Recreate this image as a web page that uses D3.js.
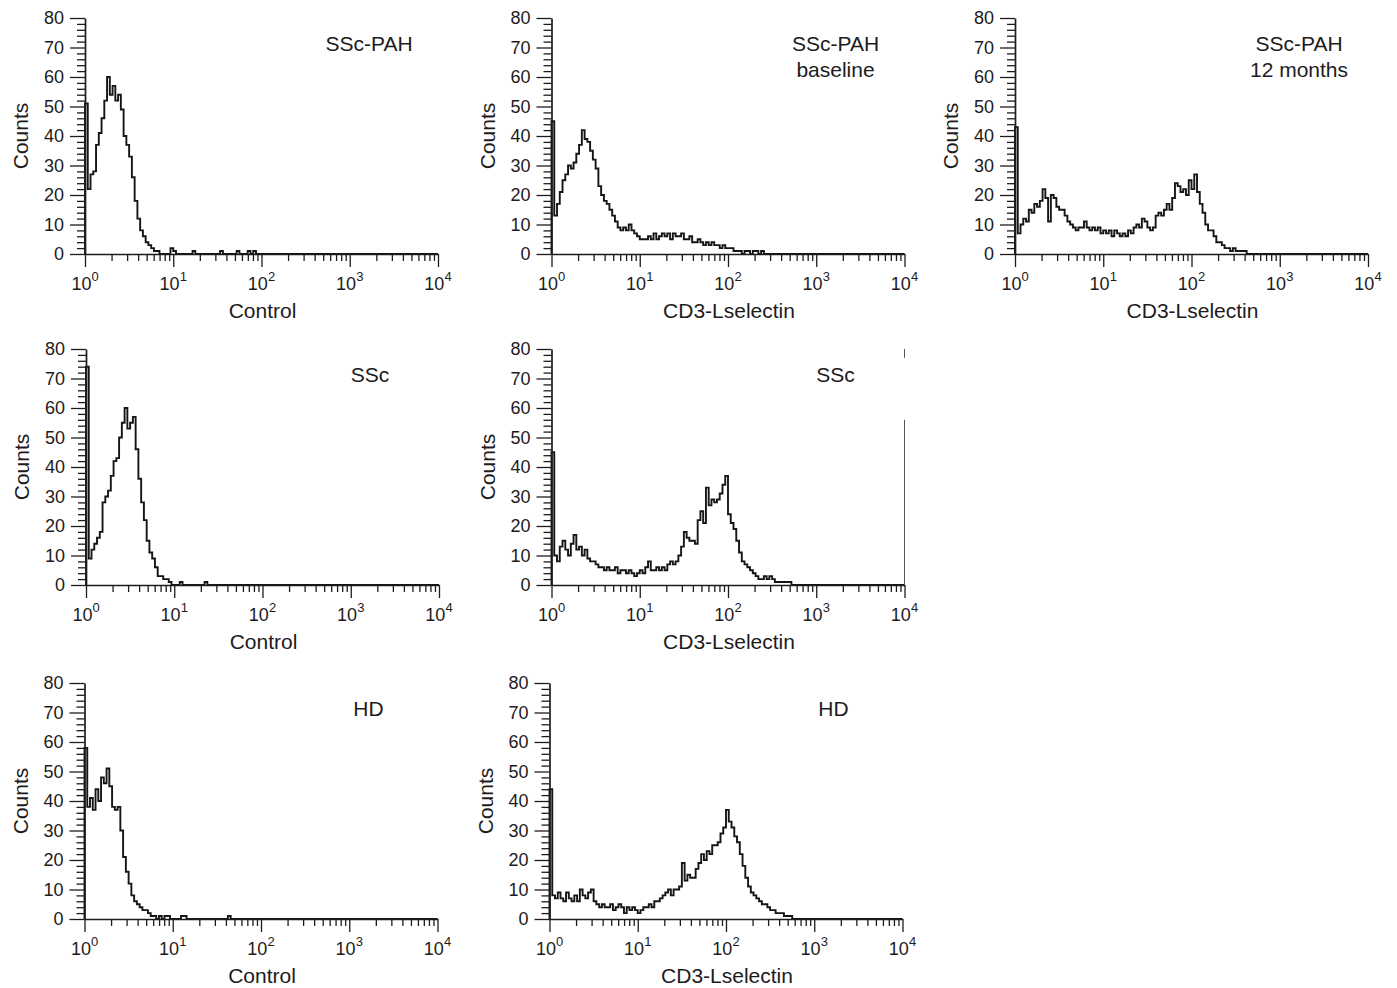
<!DOCTYPE html>
<html>
<head>
<meta charset="utf-8">
<script src="https://cdn.jsdelivr.net/npm/d3@7"></script>
<style>
  body { margin: 0; background: #fff; }
  text { font-family: "Liberation Sans", Arial, Helvetica, sans-serif; fill: #1e1b1c; }
</style>
</head>
<body>
<svg id="fig" width="1397" height="988"></svg>
<script>
// FACS histograms: counts per channel, 32 channels per decade, channel 0 starts at 10^0
var channelsPerDecade = 32;

var pahControl = [51,22,27,28,37,41,46,52,60,54,57,52,54,49,40,37,33,26,18,12,
  8,6,4,3,2,1,1,0,0,0,0,2,1,0,0,0,0,0,0,1,0,0,0,0,0,0,0,0,0,1,0,0,0,0,0,1,0,0,0,1,0,1];

var pahBaseline = [45,13,17,21,25,27,30,29,31,34,37,42,39,38,35,32,29,23,20,18,
  17,15,13,11,9,8,9,8,10,8,7,6,5,5,5,6,5,7,5,6,7,6,7,5,7,6,6,7,5,5,
  6,4,4,5,4,3,4,3,4,3,3,2,3,2,2,2,1,1,1,0,1,1,0,1,1,0,1];

var pah12Months = [43,7,10,12,11,15,14,17,16,18,22,19,11,20,19,16,15,15,13,11,
  10,9,8,9,9,11,9,8,9,8,9,7,8,7,8,6,8,7,6,7,6,8,7,9,10,9,12,11,9,8,
  9,13,14,13,15,17,15,19,24,23,21,22,20,25,22,27,21,17,14,10,8,8,6,4,4,3,2,2,1,2,
  1,1,1,1];

var sscControl = [74,9,12,14,16,18,28,30,32,37,42,43,50,55,60,53,55,57,46,36,
  28,22,15,11,9,6,3,3,2,2,1,0,0,0,1,0,0,0,0,0,0,0,0,1];

var sscLselectin = [45,10,8,13,15,12,10,14,17,12,13,10,12,9,8,8,7,6,6,5,
  6,5,5,6,4,5,5,4,5,4,3,4,5,4,6,8,5,5,6,5,6,5,7,8,7,8,10,13,18,16,
  15,15,14,22,25,21,33,27,29,28,29,31,34,37,24,21,19,15,11,8,7,6,5,4,3,2,2,3,2,3,
  2,1,1,1,1,1,1];

var hdControl = [58,38,41,37,44,40,48,46,51,45,38,37,38,30,21,16,12,8,6,5,
  4,3,3,2,1,1,0,1,0,1,1,0,0,0,0,1,1,0,0,0,0,0,0,0,0,0,0,0,0,0,0,0,1];

var hdLselectin = [44,8,7,9,7,6,9,7,6,8,6,10,8,7,9,10,6,5,4,5,
  4,4,5,3,4,5,4,2,4,3,4,3,2,3,4,4,5,4,6,6,7,8,9,10,8,10,10,11,19,13,
  15,14,14,17,19,22,20,23,22,25,25,26,29,31,37,33,31,28,26,22,18,14,11,9,8,7,6,5,5,4,
  3,3,2,2,2,1,1,1];

var yTickValues = [0, 10, 20, 30, 40, 50, 60, 70, 80];
var xTickValues = [1, 10, 100, 1000, 10000];
var xTickExponents = ["0", "1", "2", "3", "4"];
var yLabel = "Counts";

var panels = [
  { title: ["SSc-PAH"], xLabel: "Control", counts: pahControl, left: 85, top: 18 },
  { title: ["SSc-PAH", "baseline"], xLabel: "CD3-Lselectin", counts: pahBaseline, left: 551.5, top: 18 },
  { title: ["SSc-PAH", "12 months"], xLabel: "CD3-Lselectin", counts: pah12Months, left: 1015, top: 18 },
  { title: ["SSc"], xLabel: "Control", counts: sscControl, left: 86, top: 349 },
  { title: ["SSc"], xLabel: "CD3-Lselectin", counts: sscLselectin, left: 551.5, top: 349, edge: true },
  { title: ["HD"], xLabel: "Control", counts: hdControl, left: 84.5, top: 683 },
  { title: ["HD"], xLabel: "CD3-Lselectin", counts: hdLselectin, left: 549.5, top: 683 }
];

var W = 353, H = 236;
var ink = "#1e1b1c";
var svg = d3.select("#fig");

// minor ticks: 2..9 within each decade
var xMinor = [];
[1, 10, 100, 1000].forEach(function(d) {
  for (var k = 2; k <= 9; k++) xMinor.push(d * k);
});
var yMinor = d3.range(0, 81, 2).filter(function(v) { return v % 10 !== 0; });

panels.forEach(function(p) {
  var g = svg.append("g").attr("transform", "translate(" + p.left + "," + p.top + ")");
  var x = d3.scaleLog().domain([1, 1e4]).range([0, W]);
  var y = d3.scaleLinear().domain([0, 80]).range([H, 0]);

  // step histogram
  var pts = [[1, 0]];
  p.counts.forEach(function(c, i) {
    pts.push([Math.pow(10, i / channelsPerDecade), c]);
  });
  pts.push([Math.pow(10, p.counts.length / channelsPerDecade), 0]);
  pts.push([1e4, 0]);

  var line = d3.line()
    .x(function(d) { return x(d[0]); })
    .y(function(d) { return y(d[1]); })
    .curve(d3.curveStepAfter);

  g.append("path")
    .datum(pts)
    .attr("d", line)
    .attr("fill", "none")
    .attr("stroke", "#151515")
    .attr("stroke-width", 1.9)
    .attr("stroke-linejoin", "miter");

  // y axis
  var yAx = g.append("g")
    .call(d3.axisLeft(y).tickValues(yTickValues).tickSize(15).tickSizeOuter(0).tickPadding(6));
  var yMin = g.append("g")
    .call(d3.axisLeft(y).tickValues(yMinor).tickSize(8).tickFormat(""));
  yMin.select(".domain").remove();
  yAx.selectAll("text").style("font-size", "18px");

  // x axis
  var xAx = g.append("g")
    .attr("transform", "translate(0," + H + ")")
    .call(d3.axisBottom(x).tickValues(xTickValues).tickSize(13).tickSizeOuter(0).tickFormat(""));
  var xMin = g.append("g")
    .attr("transform", "translate(0," + H + ")")
    .call(d3.axisBottom(x).tickValues(xMinor).tickSize(7).tickFormat(""));
  xMin.select(".domain").remove();

  [yAx, yMin, xAx, xMin].forEach(function(a) {
    a.selectAll(".domain").attr("stroke", ink).attr("stroke-width", 1.7);
    a.selectAll(".tick line").attr("stroke", ink).attr("stroke-width", 1.3);
  });

  // x tick labels with superscript exponent
  xTickValues.forEach(function(v, i) {
    var t = g.append("text")
      .attr("x", x(v))
      .attr("y", H + 36)
      .attr("text-anchor", "middle")
      .style("font-size", "18px");
    t.append("tspan").text("10");
    t.append("tspan").attr("dy", -9).style("font-size", "13px").text(xTickExponents[i]);
  });

  // axis titles
  g.append("text")
    .attr("x", W / 2 + 1)
    .attr("y", H + 64)
    .attr("text-anchor", "middle")
    .style("font-size", "21px")
    .text(p.xLabel);

  g.append("text")
    .attr("transform", "translate(-57," + (H / 2) + ") rotate(-90)")
    .attr("text-anchor", "middle")
    .style("font-size", "21px")
    .text(yLabel);

  // panel title
  p.title.forEach(function(s, i) {
    g.append("text")
      .attr("x", 284)
      .attr("y", 33 + i * 26)
      .attr("text-anchor", "middle")
      .style("font-size", "21px")
      .text(s);
  });

  // partial right frame visible on one panel
  if (p.edge) {
    [[0, 56], [77, 80]].forEach(function(seg) {
      g.append("line")
        .attr("x1", W).attr("x2", W)
        .attr("y1", y(seg[0])).attr("y2", y(seg[1]))
        .attr("stroke", "#555").attr("stroke-width", 1);
    });
  }
});
</script>
</body>
</html>
